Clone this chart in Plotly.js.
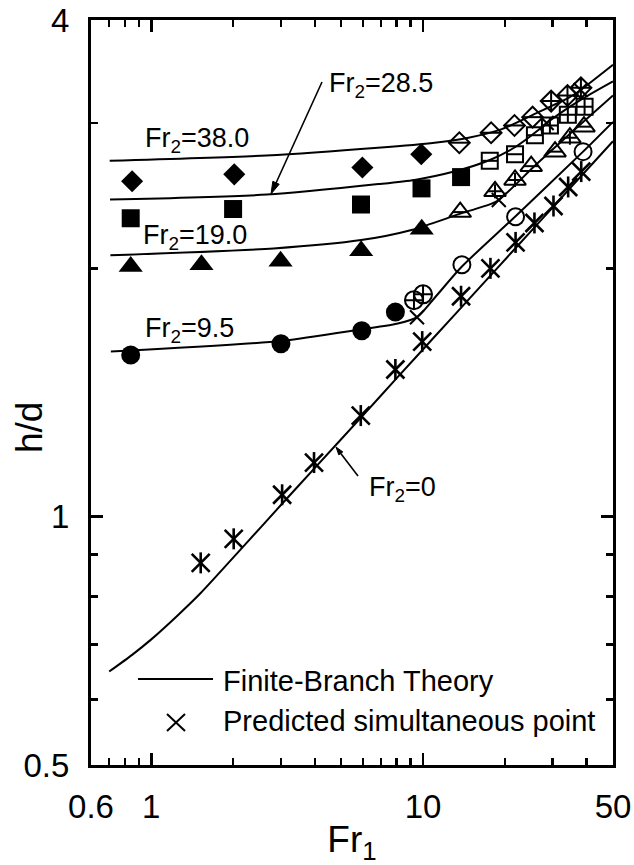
<!DOCTYPE html>
<html>
<head>
<meta charset="utf-8">
<script src="https://cdn.plot.ly/plotly-3.0.1.min.js"></script>
<style>
html,body{margin:0;padding:0;background:#fff;}
#chart{width:634px;height:865px;}
</style>
</head>
<body>
<div id="chart"></div>
<script>
// ---------- Finite-Branch Theory curves (Fr1, h/d) ----------
const curveFr1_0   = [0.70, 0.85, 1.0, 1.25, 1.52, 2.2, 3.0, 4.0, 6.0, 8.0, 11, 16, 22, 30, 42, 50];
const curveHd_0    = [0.649, 0.680, 0.710, 0.759, 0.808, 0.923, 1.033, 1.146, 1.326, 1.472, 1.651, 1.890, 2.120, 2.371, 2.678, 2.852];
const curveFr1_95  = [0.71, 3.0, 5.95, 8.0, 9.5, 11, 13.9, 21.8, 38.8, 50];
const curveHd_95   = [1.586, 1.633, 1.687, 1.713, 1.745, 1.84, 2.01, 2.31, 2.77, 3.01];
const curveFr1_19  = [0.707, 2.82, 5.92, 9.07, 13.9, 17.5, 19, 26, 38, 50];
const curveHd_19   = [2.074, 2.114, 2.164, 2.226, 2.333, 2.389, 2.42, 2.67, 2.99, 3.24];
const curveFr1_285 = [0.705, 2.66, 6.85, 9.31, 13, 17.8, 22, 26.5, 28.5, 38, 50];
const curveHd_285  = [2.423, 2.457, 2.53, 2.56, 2.62, 2.71, 2.81, 2.94, 3.0, 3.2, 3.37];
const curveFr1_38  = [0.703, 2.65, 6.82, 11.03, 14.7, 19.5, 25.9, 34.4, 38, 50];
const curveHd_38   = [2.70, 2.74, 2.80, 2.84, 2.88, 2.95, 3.08, 3.22, 3.29, 3.53];

// ---------- Experimental points ----------
// Fr2 = 0 (asterisks)
const starFr1 = [1.52, 2.01, 3.03, 3.97, 5.90, 7.91, 9.93, 13.8, 17.7, 21.9, 25.7, 30.2, 34.2, 38.2];
const starHd  = [0.879, 0.940, 1.063, 1.163, 1.326, 1.508, 1.63, 1.85, 2.00, 2.15, 2.27, 2.38, 2.51, 2.62];
// Fr2 = 9.5 (circles)
const circFillFr1  = [0.84, 3.0, 5.95, 7.91];
const circFillHd   = [1.57, 1.62, 1.68, 1.77];
const circCrossFr1 = [9.26, 10.0];
const circCrossHd  = [1.83, 1.86];
const circOpenFr1  = [13.9, 21.9, 38.8];
const circOpenHd   = [2.02, 2.31, 2.77];
// Fr2 = 19.0 (triangles)
const triFillFr1  = [0.84, 1.53, 2.99, 5.92, 9.89];
const triFillHd   = [2.01, 2.02, 2.04, 2.10, 2.23];
const triLineFr1  = [13.7, 25.0, 30.6, 39.1];
const triLineHd   = [2.34, 2.66, 2.77, 2.97];
const triCrossFr1 = [18.4, 21.8, 34.7];
const triCrossHd  = [2.48, 2.56, 2.88];
// Fr2 = 28.5 (squares)
const sqFillFr1  = [0.84, 2.0, 5.91, 9.87, 13.8];
const sqFillHd   = [2.30, 2.36, 2.39, 2.50, 2.58];
const sqLineFr1  = [17.6, 21.8, 25.8];
const sqLineHd   = [2.70, 2.75, 2.90];
const sqCrossFr1 = [29.3, 34.1, 39.3];
const sqCrossHd  = [2.98, 3.07, 3.14];
// Fr2 = 38.0 (diamonds)
const diaFillFr1  = [0.85, 2.02, 5.98, 9.85];
const diaFillHd   = [2.55, 2.60, 2.65, 2.75];
const diaLineFr1  = [13.6, 17.8, 21.7, 25.3];
const diaLineHd   = [2.84, 2.92, 2.98, 3.05];
const diaCrossFr1 = [29.6, 34.0, 38.1];
const diaCrossHd  = [3.19, 3.24, 3.31];
// Predicted simultaneous points
const simFr1 = [9.5, 19, 28.5, 38];
const simHd  = [1.745, 2.42, 3.0, 3.29];

// ---------- Axis ticks ----------
const xTickVals = [0.6, 1, 10, 50];
const xTickText = ['0.6', '1', '10', '50'];
const xMinorVals = [0.7, 0.8, 0.9, 2, 3, 4, 5, 6, 7, 8, 9, 20, 30, 40];
const yTickVals = [0.5, 1, 4];
const yTickText = ['0.5', '1', '4'];
const yMinorVals = [0.6, 0.7, 0.8, 0.9, 2, 3];

const FONT = '"Liberation Sans", Arial, Helvetica, sans-serif';
const K = '#000';

function curve(x, y) {
  return {x: x, y: y, type: 'scatter', mode: 'lines',
          line: {color: K, width: 2, shape: 'spline', smoothing: 0.7}, hoverinfo: 'skip', showlegend: false};
}
function pts(x, y, symbol, size, lw) {
  return {x: x, y: y, type: 'scatter', mode: 'markers', hoverinfo: 'skip', showlegend: false,
          marker: {symbol: symbol, size: size, color: K, line: {color: K, width: lw}}};
}

const traces = [
  curve(curveFr1_0, curveHd_0),
  curve(curveFr1_95, curveHd_95),
  curve(curveFr1_19, curveHd_19),
  curve(curveFr1_285, curveHd_285),
  curve(curveFr1_38, curveHd_38),
  // asterisks (vertical + X)
  pts(starFr1, starHd, 'line-ns-open', 15, 2.6),
  pts(starFr1, starHd, 'x-thin-open', 18, 2.6),
  // circles
  pts(circFillFr1, circFillHd, 'circle', 19, 0),
  pts(circCrossFr1, circCrossHd, 'circle-cross-open', 18, 2),
  pts(circOpenFr1, circOpenHd, 'circle-open', 17, 2),
  // triangles
  pts(triFillFr1, triFillHd, 'triangle-up', 21, 0),
  pts(triLineFr1, triLineHd, 'triangle-up-open', 19, 2),
  pts(triLineFr1, triLineHd, 'line-ew-open', 11, 2),
  pts(triCrossFr1, triCrossHd, 'triangle-up-open', 19, 2),
  pts(triCrossFr1, triCrossHd, 'cross-thin-open', 10, 2),
  // squares
  pts(sqFillFr1, sqFillHd, 'square', 18, 0),
  pts(sqLineFr1, sqLineHd, 'square-open', 16, 2),
  pts(sqLineFr1, sqLineHd, 'line-ew-open', 11, 2),
  pts(sqCrossFr1, sqCrossHd, 'square-cross-open', 16, 2),
  // diamonds
  pts(diaFillFr1, diaFillHd, 'diamond', 17, 0),
  pts(diaLineFr1, diaLineHd, 'diamond-open', 16, 2),
  pts(diaLineFr1, diaLineHd, 'line-ew-open', 15, 2),
  pts(diaCrossFr1, diaCrossHd, 'diamond-cross-open', 16, 2),
  // predicted simultaneous points
  pts(simFr1, simHd, 'x-thin-open', 14, 2)
];

// plot area in pixels: left 91, right 613, top 20, bottom 765
const px = v => (v - 91) / 522;
const py = v => (765 - v) / 745;

const lbl = (txt, x, y) => ({text: txt, xref: 'paper', yref: 'paper', x: x, y: y,
  xanchor: 'left', yanchor: 'middle', showarrow: false, font: {size: 27, color: K, family: FONT}});

const annotations = [
  lbl('Fr<sub>2</sub>=38.0', px(143), py(140)),
  lbl('Fr<sub>2</sub>=28.5', px(327), py(85)),
  lbl('Fr<sub>2</sub>=19.0', px(141), py(237)),
  lbl('Fr<sub>2</sub>=9.5', px(143), py(330)),
  lbl('Fr<sub>2</sub>=0', px(367), py(489)),
  // legend texts
  {text: 'Finite-Branch Theory', xref: 'paper', yref: 'paper', x: px(221), y: py(681),
   xanchor: 'left', yanchor: 'middle', showarrow: false, font: {size: 29, color: K, family: FONT}},
  {text: 'Predicted simultaneous point', xref: 'paper', yref: 'paper', x: px(221), y: py(721),
   xanchor: 'left', yanchor: 'middle', showarrow: false, font: {size: 29, color: K, family: FONT}},
  // y axis title
  {text: 'h/d', xref: 'paper', yref: 'paper', x: px(30), y: py(428), textangle: -90,
   xanchor: 'center', yanchor: 'middle', showarrow: false, font: {size: 37, color: K, family: FONT}}
];

const shapes = [
  // pointer to the Fr2=28.5 curve
  {type: 'line', xref: 'paper', yref: 'paper', x0: px(322), y0: py(82), x1: px(275.8), y1: py(183.5),
   line: {color: K, width: 1.6}},
  {type: 'path', xref: 'paper', yref: 'paper',
   path: 'M' + px(271) + ',' + py(194) + ' L' + px(279.2) + ',' + py(184.2) + ' L' + px(272.8) + ',' + py(181.3) + ' Z',
   fillcolor: K, line: {color: K, width: 1}},
  // pointer to the Fr2=0 curve
  {type: 'line', xref: 'paper', yref: 'paper', x0: px(358), y0: py(476), x1: px(340.8), y1: py(453.4),
   line: {color: K, width: 1.6}},
  {type: 'path', xref: 'paper', yref: 'paper',
   path: 'M' + px(336) + ',' + py(447) + ' L' + px(342.8) + ',' + py(451.9) + ' L' + px(338.8) + ',' + py(454.9) + ' Z',
   fillcolor: K, line: {color: K, width: 1}},
  // legend line sample
  {type: 'line', xref: 'paper', yref: 'paper', x0: px(138), x1: px(213), y0: py(679), y1: py(679),
   line: {color: K, width: 2}},
  // legend cross
  {type: 'line', xref: 'paper', yref: 'paper', x0: px(167), x1: px(185), y0: py(714), y1: py(731),
   line: {color: K, width: 2}},
  {type: 'line', xref: 'paper', yref: 'paper', x0: px(167), x1: px(185), y0: py(731), y1: py(714),
   line: {color: K, width: 2}}
];

const axisCommon = {
  type: 'log', ticks: 'inside', ticklen: 12, tickwidth: 2.5, tickcolor: K,
  showline: true, linewidth: 3, linecolor: K, mirror: 'ticks',
  showgrid: false, zeroline: false, automargin: false,
  tickfont: {size: 33, color: K, family: FONT}
};

const layout = {
  width: 634, height: 865,
  margin: {l: 91, r: 21, t: 20, b: 100, pad: 0},
  paper_bgcolor: '#fff', plot_bgcolor: '#fff',
  showlegend: false,
  font: {family: FONT, color: K},
  xaxis: Object.assign({}, axisCommon, {
    range: [Math.log10(0.6), Math.log10(50)],
    tickmode: 'array', tickvals: xTickVals, ticktext: xTickText,
    ticklabelstandoff: 10,
    minor: {tickmode: 'array', tickvals: xMinorVals, ticks: 'inside', ticklen: 7, tickwidth: 2.5, tickcolor: K, showgrid: false},
    title: {text: 'Fr<sub>1</sub>', font: {size: 37, color: K, family: FONT}, standoff: 6}
  }),
  yaxis: Object.assign({}, axisCommon, {
    range: [Math.log10(0.5), Math.log10(4)],
    tickmode: 'array', tickvals: yTickVals, ticktext: yTickText,
    ticklabelstandoff: 12,
    minor: {tickmode: 'array', tickvals: yMinorVals, ticks: 'inside', ticklen: 7, tickwidth: 2.5, tickcolor: K, showgrid: false}
  }),
  annotations: annotations,
  shapes: shapes
};

Plotly.newPlot('chart', traces, layout, {displayModeBar: false, staticPlot: true});
</script>
</body>
</html>
